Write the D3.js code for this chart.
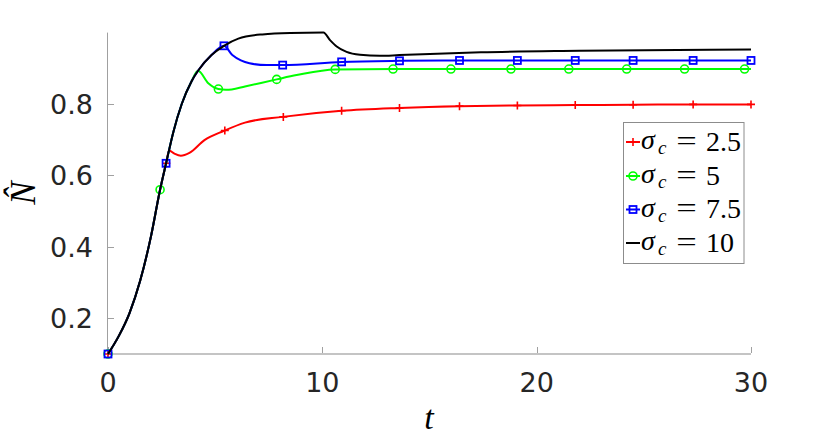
<!DOCTYPE html>
<html><head><meta charset="utf-8">
<script src="https://cdn.jsdelivr.net/npm/d3@7"></script>
<style>body{margin:0;background:#fff}svg{display:block}</style>
</head><body>
<script>
// ---- data (t, N̂) ----
const blackLine = [[0,0.100],[0.5,0.150],[1.0,0.214],[1.5,0.305],[2.0,0.428],[2.43,0.560],[2.71,0.634],[3.05,0.722],[3.44,0.800],[3.9,0.864],[4.2,0.893],[4.83,0.937],[5.41,0.963],[6.08,0.983],[7.2,0.995],[8.5,0.999],[10.05,1.0],[10.36,0.979],[10.67,0.961],[11.13,0.946],[11.76,0.938],[12.69,0.935],[13.6,0.937],[17.4,0.945],[22,0.949],[30,0.953]];
const redLine   = [[0,0.100],[0.5,0.150],[1.0,0.214],[1.5,0.305],[2.0,0.428],[2.43,0.560],[2.71,0.634],[2.85,0.670],[3.1,0.661],[3.4,0.655],[3.8,0.663],[4.5,0.699],[5.41,0.725],[6.39,0.748],[8.15,0.764],[10.9,0.781],[13.6,0.789],[16.4,0.794],[19.1,0.796],[21.8,0.797],[24.5,0.798],[27.3,0.799],[30,0.799]];
const greenLine = [[0,0.100],[0.5,0.150],[1.0,0.214],[1.5,0.305],[2.0,0.428],[2.43,0.560],[2.71,0.634],[3.05,0.722],[3.44,0.800],[3.9,0.864],[4.2,0.893],[4.68,0.858],[5.15,0.842],[5.5,0.840],[5.77,0.841],[6.39,0.849],[7.87,0.869],[8.8,0.881],[10.6,0.897],[13.3,0.898],[30,0.898]];
const blueLine  = [[0,0.100],[0.5,0.150],[1.0,0.214],[1.5,0.305],[2.0,0.428],[2.43,0.560],[2.71,0.634],[3.05,0.722],[3.44,0.800],[3.9,0.864],[4.2,0.893],[4.83,0.937],[5.41,0.963],[5.8,0.937],[6.2,0.922],[6.6,0.914],[7.4,0.909],[8.15,0.909],[10.9,0.918],[13.6,0.921],[16.4,0.922],[30,0.922]];
const redMarks   = [[0,0.1],[2.72,0.634],[5.45,0.726],[8.18,0.764],[10.9,0.781],[13.6,0.789],[16.4,0.794],[19.1,0.796],[21.8,0.797],[24.5,0.798],[27.3,0.799],[30,0.799]];
const greenMarks = [[0,0.1],[2.43,0.560],[5.15,0.842],[7.87,0.869],[10.6,0.897],[13.3,0.898],[16.0,0.898],[18.8,0.898],[21.5,0.898],[24.2,0.898],[26.9,0.898],[29.7,0.898]];
const blueMarks  = [[0,0.1],[2.71,0.634],[5.41,0.963],[8.15,0.909],[10.9,0.918],[13.6,0.921],[16.4,0.922],[19.1,0.922],[21.8,0.922],[24.5,0.922],[27.3,0.922],[30,0.922]];
const legendValues = ["2.5","5","7.5","10"];
const xTicks = [0,10,20,30];
const yTicks = [0.2,0.4,0.6,0.8];

const W=830,H=442;
const svg=d3.select("body").append("svg").attr("width",W).attr("height",H);
const x=d3.scaleLinear().domain([0,30]).range([108,751]);
const y=d3.scaleLinear().domain([0.1,1.0]).range([354,32.6]);

// axes
const axC="#262626";
svg.append("line").attr("x1",107.5).attr("x2",107.5).attr("y1",y(1.0)).attr("y2",354).attr("stroke","#a0a0a0").attr("stroke-width",1);
svg.append("line").attr("x1",107.5).attr("x2",751).attr("y1",354).attr("y2",354).attr("stroke","#c4c4c4").attr("stroke-width",2);
yTicks.forEach(v=>{
  svg.append("line").attr("x1",108).attr("x2",114).attr("y1",Math.round(y(v))+0.5).attr("y2",Math.round(y(v))+0.5).attr("stroke","#a0a0a0");
  svg.append("text").attr("x",93).attr("y",y(v)+10).attr("text-anchor","end")
    .attr("font-family","DejaVu Sans").attr("font-size",27).attr("fill",axC).text(d3.format(".1f")(v));
});
xTicks.forEach(v=>{
  svg.append("line").attr("x1",Math.round(x(v))+0.5).attr("x2",Math.round(x(v))+0.5).attr("y1",347).attr("y2",353).attr("stroke","#a0a0a0");
  svg.append("text").attr("x",x(v)).attr("y",391.5).attr("text-anchor","middle")
    .attr("font-family","DejaVu Sans").attr("font-size",27).attr("fill",axC).text(v);
});
// axis labels
svg.append("text").attr("x",429).attr("y",429).attr("text-anchor","middle")
  .attr("font-family","Liberation Serif").attr("font-style","italic").attr("font-size",34).attr("fill","#000").text("t");
svg.append("g").attr("transform","translate(35,193) rotate(-90)")
  .append("text").attr("x",0).attr("y",0).attr("text-anchor","middle")
  .attr("font-family","Liberation Serif").attr("font-style","italic").attr("font-size",35).attr("fill","#000").text("N\u0302");

const line=d3.line().x(d=>x(d[0])).y(d=>y(d[1])).curve(d3.curveMonotoneX);
const series=[
  {line:redLine,marks:redMarks,color:"#ff0000",shape:"plus"},
  {line:greenLine,marks:greenMarks,color:"#00ff00",shape:"circle"},
  {line:blueLine,marks:blueMarks,color:"#0000ff",shape:"square"},
  {line:blackLine,marks:[],color:"#000000",shape:"none"}
];
function marker(g,shape,color,cx,cy){
  if(shape==="plus"){
    g.append("path").attr("d",`M${cx-4},${cy}H${cx+4}M${cx},${cy-4}V${cy+4}`).attr("stroke",color).attr("stroke-width",1.6).attr("fill","none");
  }else if(shape==="circle"){
    g.append("circle").attr("cx",cx).attr("cy",cy).attr("r",4).attr("stroke",color).attr("stroke-width",1.6).attr("fill","none");
  }else if(shape==="square"){
    g.append("rect").attr("x",cx-3.5).attr("y",cy-3.5).attr("width",7).attr("height",7).attr("stroke",color).attr("stroke-width",1.8).attr("fill","none");
  }
}
series.forEach(s=>{
  const g=svg.append("g");
  g.append("path").attr("d",line(s.line)).attr("fill","none").attr("stroke",s.color).attr("stroke-width",2);
  s.marks.forEach(m=>marker(g,s.shape,s.color,x(m[0]),y(m[1])));
});

// legend
const lg=svg.append("g");
lg.append("rect").attr("x",623.5).attr("y",122.5).attr("width",120.5).attr("height",141).attr("fill","#fff").attr("stroke","#8c8c8c").attr("stroke-width",1);
const rowY=[142,176,209.5,243];
const serif="Liberation Serif";
series.forEach((s,i)=>{
  const cy=rowY[i];
  lg.append("line").attr("x1",626).attr("x2",640).attr("y1",cy).attr("y2",cy).attr("stroke",s.color).attr("stroke-width",2);
  marker(lg,s.shape,s.color,633,cy);
  lg.append("text").attr("x",641).attr("y",cy+7).attr("font-family",serif).attr("font-style","italic").attr("font-size",28).text("σ");
  lg.append("text").attr("x",658).attr("y",cy+12).attr("font-family",serif).attr("font-style","italic").attr("font-size",19).text("c");
  lg.append("text").attr("x",686.5).attr("y",cy+8).attr("text-anchor","middle").attr("font-family",serif).attr("font-size",28)
    .attr("transform",`translate(686.5,0) scale(1.3,1) translate(-686.5,0)`).text("=");
  lg.append("text").attr("x",706).attr("y",cy+8.5).attr("font-family",serif).attr("font-size",28).text(legendValues[i]);
});
</script>
</body></html>
